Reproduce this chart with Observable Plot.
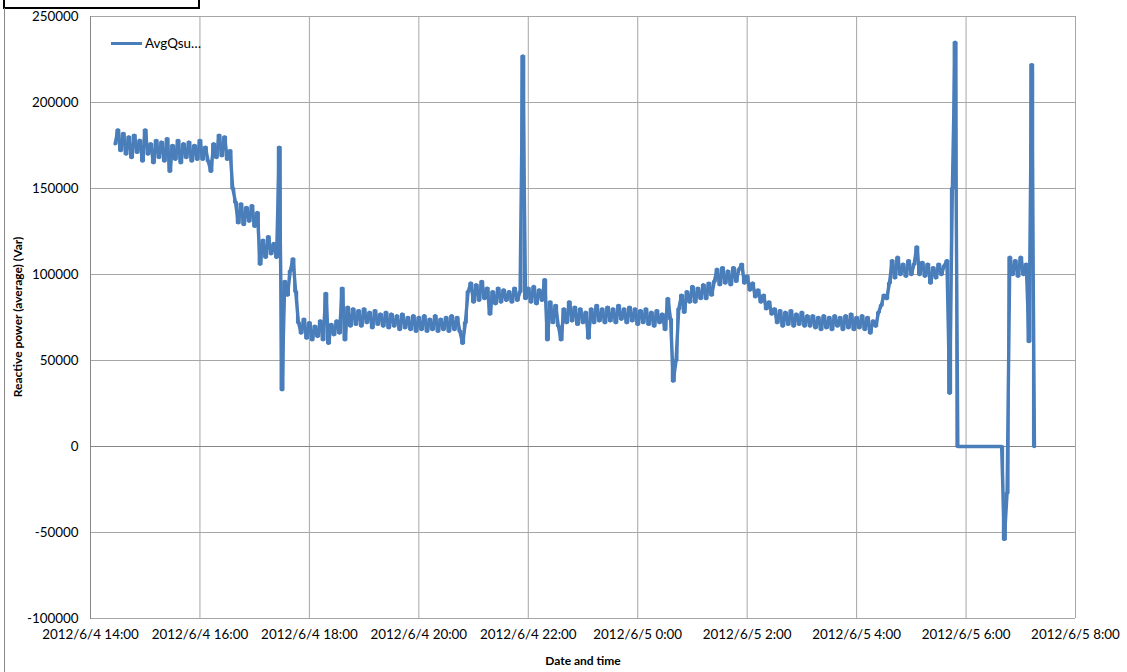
<!DOCTYPE html>
<html>
<head>
<meta charset="utf-8">
<script src="https://cdn.jsdelivr.net/npm/d3@7"></script>
<script src="https://cdn.jsdelivr.net/npm/@observablehq/plot@0.6"></script>
<style>
  html, body { margin: 0; padding: 0; background: #fff; }
  #wrap { position: relative; width: 1127px; height: 672px; overflow: hidden; font-family: Lato, "DejaVu Sans", sans-serif; }
  #wrap svg { position: absolute; left: 0; top: 0; }
  .ov { position: absolute; white-space: nowrap; color: #000; }
</style>
</head>
<body>
<div id="wrap"></div>
<script>
// ---- Data ----
const seriesName = "AvgQsu…";
const sampleStart = "2012-06-04T14:27:00";   // first sample
const sampleStepMinutes = 3;                  // regular sampling interval
// Reactive power (average) in Var, one value per sample
const reactivePower = [
  176000, 184000, 172000, 182000, 170000, 180000, 168000, 181000, 171000, 178000,
  166000, 184000, 170000, 176000, 165000, 178000, 168000, 177000, 166000, 179000,
  160000, 175000, 167000, 178000, 165000, 176000, 168000, 177000, 166000, 175000,
  167000, 178000, 167000, 174000, 166000, 160000, 176000, 168000, 181000, 169000,
  180000, 167000, 172000, 150000, 142000, 130000, 141000, 129000, 139000, 131000,
  140000, 128000, 136000, 106000, 120000, 110000, 122000, 112000, 118000, 110000,
  174000, 33000, 96000, 88000, 102000, 109000, 90000, 72000, 66000, 74000,
  63000, 72000, 62000, 70000, 64000, 73000, 62000, 89000, 60000, 71000,
  65000, 73000, 66000, 92000, 62000, 81000, 70000, 80000, 71000, 79000,
  70000, 80000, 72000, 78000, 69000, 79000, 71000, 77000, 70000, 78000,
  69000, 77000, 70000, 76000, 68000, 77000, 69000, 75000, 68000, 76000,
  67000, 75000, 68000, 76000, 67000, 74000, 68000, 76000, 67000, 74000,
  68000, 75000, 67000, 76000, 68000, 75000, 67000, 60000, 72000, 90000,
  95000, 84000, 94000, 85000, 96000, 86000, 92000, 77000, 90000, 83000,
  92000, 84000, 91000, 85000, 90000, 84000, 92000, 85000, 90000, 227000,
  86000, 92000, 84000, 93000, 83000, 91000, 85000, 97000, 62000, 84000,
  72000, 82000, 70000, 62000, 80000, 72000, 84000, 73000, 81000, 71000,
  80000, 72000, 78000, 63000, 80000, 72000, 82000, 73000, 80000, 72000,
  81000, 73000, 80000, 72000, 82000, 74000, 80000, 72000, 81000, 73000,
  80000, 71000, 79000, 72000, 80000, 71000, 78000, 70000, 79000, 72000,
  77000, 68000, 86000, 74000, 38000, 50000, 80000, 88000, 78000, 90000,
  84000, 93000, 84000, 92000, 86000, 94000, 86000, 95000, 88000, 96000,
  103000, 94000, 104000, 95000, 102000, 94000, 104000, 96000, 103000, 106000,
  95000, 99000, 91000, 95000, 87000, 91000, 84000, 88000, 80000, 84000,
  77000, 80000, 72000, 79000, 70000, 78000, 71000, 79000, 70000, 77000,
  71000, 78000, 70000, 76000, 70000, 76000, 69000, 75000, 68000, 76000,
  69000, 75000, 68000, 76000, 70000, 75000, 68000, 76000, 69000, 77000,
  68000, 75000, 69000, 76000, 68000, 75000, 66000, 73000, 70000, 78000,
  82000, 88000, 86000, 95000, 108000, 98000, 110000, 100000, 106000, 99000,
  108000, 100000, 106000, 116000, 100000, 107000, 99000, 106000, 95000, 104000,
  98000, 106000, 100000, 105000, 108000, 31000, 150000, 235000, 0, 0,
  0, 0, 0, 0, 0, 0, 0, 0, 0, 0,
  0, 0, 0, 0, 0, -54000, -27000, 110000, 100000, 108000,
  99000, 110000, 100000, 106000, 61000, 222000, 0
];
// Axis ticks
const xTicks = [
  "2012-06-04T14:00", "2012-06-04T16:00", "2012-06-04T18:00", "2012-06-04T20:00",
  "2012-06-04T22:00", "2012-06-05T00:00", "2012-06-05T02:00", "2012-06-05T04:00",
  "2012-06-05T06:00", "2012-06-05T08:00"
];
const yTicks = [-100000, -50000, 0, 50000, 100000, 150000, 200000, 250000];
const xTitle = "Date and time";
const yTitle = "Reactive power (average) (Var)";

// ---- Build table ----
const t0 = new Date(sampleStart).getTime();
const data = reactivePower.map((v, i) => ({
  time: new Date(t0 + i * sampleStepMinutes * 60000),
  value: v
}));
const xTickDates = xTicks.map(s => new Date(s));
const fmtTime = d => `${d.getFullYear()}/${d.getMonth() + 1}/${d.getDate()} ${d.getHours()}:${String(d.getMinutes()).padStart(2, "0")}`;

const lineColor = "#4a7ebb";
const gridColor = "#a6a6a6";
const axisColor = "#868686";

const chart = Plot.plot({
  width: 1127,
  height: 672,
  marginLeft: 90,
  marginRight: 52,
  marginTop: 16,
  marginBottom: 54,
  style: { fontFamily: "Lato, 'DejaVu Sans', sans-serif", fontSize: "13.4px", color: "#000", background: "transparent" },
  x: {
    type: "time",
    domain: [xTickDates[0], xTickDates[xTickDates.length - 1]],
    ticks: xTickDates,
    tickFormat: fmtTime,
    tickSize: 0,
    tickPadding: 11,
    label: null
  },
  y: {
    domain: [yTicks[0], yTicks[yTicks.length - 1]],
    ticks: yTicks,
    tickFormat: d => String(d),
    tickSize: 0,
    tickPadding: 12,
    label: null
  },
  marks: [
    Plot.gridX(xTickDates, { stroke: gridColor, strokeOpacity: 1 }),
    Plot.gridY(yTicks, { stroke: gridColor, strokeOpacity: 1 }),
    Plot.ruleY([0], { stroke: axisColor }),
    Plot.frame({ anchor: "left", stroke: axisColor }),
    Plot.axisX({ ticks: xTickDates, tickFormat: fmtTime, tickSize: 0, tickPadding: 11, label: null }),
    Plot.axisY({ ticks: yTicks, tickFormat: d => String(d), tickSize: 0, tickPadding: 12, label: null }),
    // dense signal: step rendering fills the noise band, linear rendering keeps slopes and spikes smooth
    Plot.line(data, { x: "time", y: "value", curve: "step", stroke: lineColor, strokeWidth: 2.3 }),
    Plot.line(data, { x: "time", y: "value", curve: "linear", stroke: lineColor, strokeWidth: 3.4, strokeLinejoin: "round", strokeLinecap: "round" })
  ]
});

const wrap = document.getElementById("wrap");
wrap.appendChild(chart);

function overlay(html, css) {
  const el = document.createElement("div");
  el.className = "ov";
  el.innerHTML = html;
  Object.assign(el.style, css);
  wrap.appendChild(el);
  return el;
}
// outer chart border remnants
overlay("", { left: "3px", top: "-3px", width: "193px", height: "8px", border: "2px solid #000" });
overlay("", { left: "4px", top: "8px", width: "0px", height: "680px", borderLeft: "1px solid #888" });
// legend
overlay("", { left: "111px", top: "42px", width: "31px", height: "3px", background: lineColor });
overlay(seriesName, { left: "145px", top: "35px", fontSize: "13.4px" });
// axis titles
overlay(xTitle, { left: "583px", top: "653px", transform: "translateX(-50%)", fontWeight: "bold", fontSize: "12px" });
overlay(yTitle, { left: "17px", top: "317px", transform: "translate(-50%,-50%) rotate(-90deg)", fontWeight: "bold", fontSize: "12px" });
</script>
</body>
</html>
